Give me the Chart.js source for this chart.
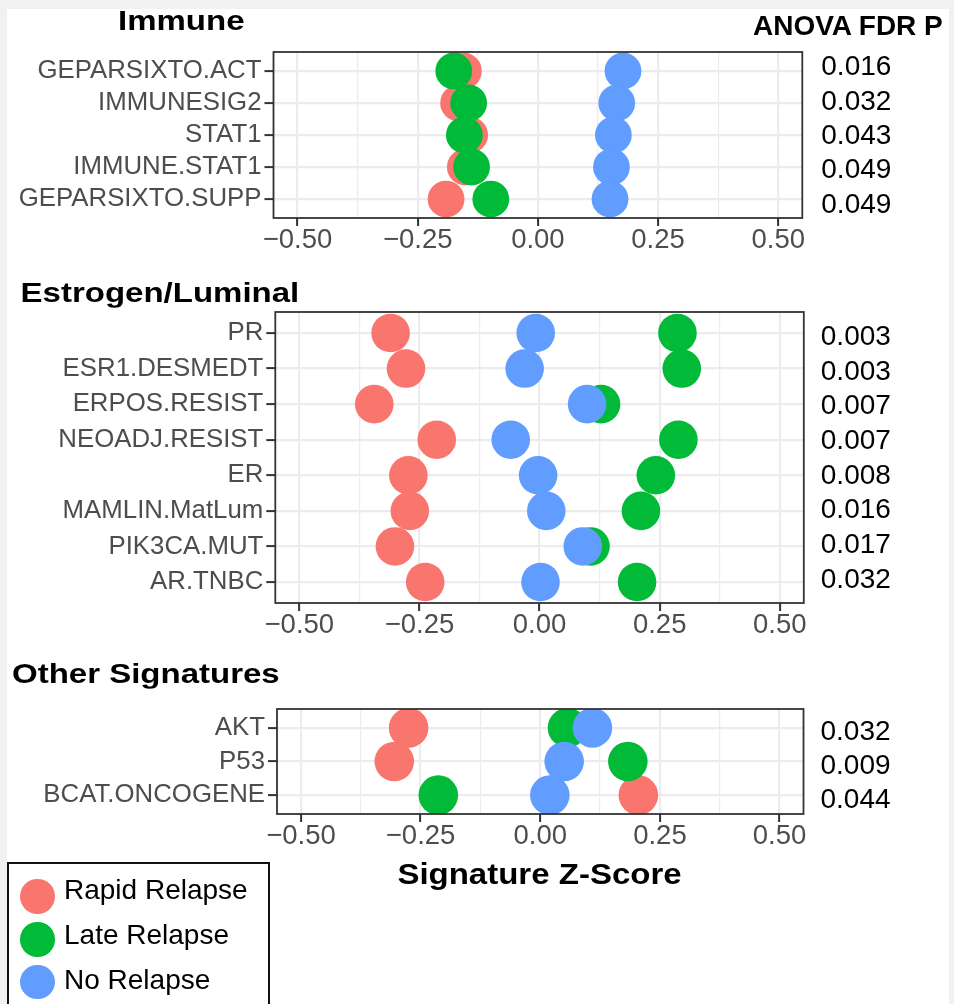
<!DOCTYPE html>
<html>
  <head>
    <meta charset="utf-8">
    <script src="https://cdn.jsdelivr.net/npm/chart.js@4.4.1/dist/chart.umd.min.js"></script>
    <style>
      body { margin: 0; width: 954px; height: 1004px; overflow: hidden; position: relative; background: #f1f1f1; font-family: "Liberation Sans", Arial, sans-serif; }
      #sheet { position: absolute; left: 7px; top: 9px; width: 942px; height: 1000px; background: #fff; }
      canvas { position: absolute; left: 0; }
      .t { position: absolute; white-space: nowrap; color: #000; }
      .ttl { font-size: 33px; line-height: 33px; font-weight: bold; transform-origin: 0 27.9px; }
      .leg { position: absolute; left: 7px; top: 862px; width: 259px; height: 160px; border: 2px solid #111; }
      .dot { position: absolute; width: 34.6px; height: 34.6px; border-radius: 50%; }
      .lt { position: absolute; font-size: 28px; line-height: 28px; white-space: nowrap; }
    </style>
  </head>
  <body>
    <div id="sheet"></div>
    <canvas id="immune" width="954" height="268" style="top:0px"></canvas>
    <canvas id="estro" width="954" height="383" style="top:270px"></canvas>
    <canvas id="other" width="954" height="214" style="top:650px"></canvas>

    <div class="t ttl" style="left:118px;top:2.4px;transform:scaleY(0.82)">Immune</div>
    <div class="t ttl" style="left:20.6px;top:274.4px;transform:scaleY(0.82)">Estrogen/Luminal</div>
    <div class="t ttl" style="left:12px;top:655.4px;transform:scaleY(0.82)">Other Signatures</div>
    <div class="t" style="left:753px;top:12.3px;font-size:28px;line-height:28px;font-weight:bold">ANOVA FDR P</div>
    <div class="t ttl" style="left:339.5px;width:400px;text-align:center;top:856.1px;transform-origin:200px 27.9px;transform:scaleY(0.88)">Signature Z-Score</div>

    <div class="leg" id="legend"></div>

    <script>
      // values
      var groups = ["Rapid Relapse", "Late Relapse", "No Relapse"];
      var groupColors = ["#F8766D", "#00BA38", "#619CFF"];
      var xTickValues = [-0.5, -0.25, 0, 0.25, 0.5];

      var immuneSigs = ["GEPARSIXTO.ACT", "IMMUNESIG2", "STAT1", "IMMUNE.STAT1", "GEPARSIXTO.SUPP"];
      var immuneRapid = [-0.155, -0.165, -0.142, -0.151, -0.191];
      var immuneLate = [-0.175, -0.144, -0.153, -0.138, -0.098];
      var immuneNone = [0.177, 0.164, 0.157, 0.153, 0.150];
      var immuneP = ["0.016", "0.032", "0.043", "0.049", "0.049"];

      var estroSigs = ["PR", "ESR1.DESMEDT", "ERPOS.RESIST", "NEOADJ.RESIST", "ER", "MAMLIN.MatLum", "PIK3CA.MUT", "AR.TNBC"];
      var estroRapid = [-0.31, -0.278, -0.344, -0.214, -0.273, -0.27, -0.301, -0.238];
      var estroLate = [0.287, 0.296, 0.128, 0.289, 0.242, 0.211, 0.106, 0.203];
      var estroNone = [-0.008, -0.031, 0.099, -0.06, -0.003, 0.014, 0.09, 0.002];
      var estroP = ["0.003", "0.003", "0.007", "0.007", "0.008", "0.016", "0.017", "0.032"];

      var otherSigs = ["AKT", "P53", "BCAT.ONCOGENE"];
      var otherRapid = [-0.275, -0.305, 0.205];
      var otherLate = [0.057, 0.183, -0.213];
      var otherNone = [0.109, 0.05, 0.02];
      var otherP = ["0.032", "0.009", "0.044"];

      var FONT = "'Liberation Sans', Arial, sans-serif";
      var GRID = "#ebebf0";

      // major ticks plus the minor ones halfway between
      var xAllTicks = [];
      xTickValues.forEach(function (v, i) {
        xAllTicks.push(v);
        if (i < xTickValues.length - 1) xAllTicks.push((v + xTickValues[i + 1]) / 2);
      });
      function isMajor(v) {
        return xTickValues.some(function (m) { return Math.abs(m - v) < 1e-9; });
      }

      // ggplot-like panel border on top of everything
      var panelBorder = {
        id: "panelBorder",
        afterDraw: function (chart) {
          var a = chart.chartArea, ctx = chart.ctx;
          ctx.save();
          ctx.strokeStyle = "#333";
          ctx.lineWidth = 1.8;
          ctx.strokeRect(a.left, a.top, a.right - a.left, a.bottom - a.top);
          ctx.restore();
        },
      };

      function makePanel(id, p) {
        var vals = [p.rapid, p.late, p.none];
        var datasets = vals.map(function (arr, g) {
          return {
            label: groups[g],
            data: arr.map(function (v, i) { return { x: v, y: i }; }),
            backgroundColor: groupColors[g],
            borderWidth: 0,
            pointRadius: p.radius,
            pointHoverRadius: p.radius,
            order: 3 - g,
          };
        });
        var rowTicks = function (axis) {
          axis.ticks = p.sigs.map(function (s, i) { return { value: i }; });
        };

        new Chart(document.getElementById(id), {
          type: "scatter",
          data: { datasets: datasets },
          plugins: [panelBorder],
          options: {
            responsive: false,
            animation: false,
            events: [],
            layout: { padding: { top: p.padTop, left: 0, right: 0, bottom: 0 } },
            plugins: { legend: { display: false }, tooltip: { enabled: false } },
            scales: {
              x: {
                type: "linear",
                min: -0.55,
                max: 0.55,
                bounds: "data",
                afterBuildTicks: function (axis) {
                  axis.ticks = xAllTicks.map(function (v) { return { value: v }; });
                },
                afterFit: function (axis) { axis.height = 50; },
                border: { display: false },
                grid: {
                  color: GRID,
                  lineWidth: function (c) { return c.tick && isMajor(c.tick.value) ? 2.2 : 1.2; },
                  tickColor: function (c) { return c.tick && isMajor(c.tick.value) ? "#333" : "rgba(0,0,0,0)"; },
                  tickLength: 8,
                  tickWidth: 2,
                },
                ticks: {
                  autoSkip: false,
                  maxRotation: 0,
                  padding: -2,
                  color: "#4d4d4d",
                  font: { family: FONT, size: 27.5 },
                  callback: function (v) {
                    if (!isMajor(v)) return "";
                    return (v < 0 ? "\u2212" : "") + Math.abs(v).toFixed(2);
                  },
                },
              },
              y: {
                type: "linear",
                position: "left",
                reverse: true,
                min: p.yMin,
                max: p.yMax,
                bounds: "data",
                afterBuildTicks: rowTicks,
                afterFit: function (axis) { axis.width = p.left; },
                border: { display: false },
                grid: { color: GRID, lineWidth: 2.2, tickColor: "#333", tickLength: 9, tickWidth: 2 },
                ticks: {
                  autoSkip: false,
                  padding: 3,
                  color: "#4d4d4d",
                  font: { family: FONT, size: 25.8 },
                  callback: function (v) { return p.sigs[v]; },
                },
              },
              pv: {
                type: "linear",
                position: "right",
                reverse: true,
                min: p.pMin,
                max: p.pMax,
                bounds: "data",
                afterBuildTicks: rowTicks,
                afterFit: function (axis) { axis.width = 954 - p.right; },
                border: { display: false },
                grid: { display: false, drawTicks: false },
                ticks: {
                  autoSkip: false,
                  padding: p.pPad,
                  color: "#000",
                  font: { family: FONT, size: 28 },
                  callback: function (v) { return p.pvals[v]; },
                },
              },
            },
          },
        });
      }

      makePanel("immune", {
        sigs: immuneSigs, rapid: immuneRapid, late: immuneLate, none: immuneNone, pvals: immuneP,
        radius: 18.4, padTop: 52, left: 273.5, right: 802.3,
        yMin: -0.59, yMax: 4.59, pMin: -0.455, pMax: 4.385, pPad: 19,
      });
      makePanel("estro", {
        sigs: estroSigs, rapid: estroRapid, late: estroLate, none: estroNone, pvals: estroP,
        radius: 19.3, padTop: 42, left: 275.3, right: 803.8,
        yMin: -0.59, yMax: 7.59, pMin: -0.73, pMax: 7.66, pPad: 17,
      });
      makePanel("other", {
        sigs: otherSigs, rapid: otherRapid, late: otherLate, none: otherNone, pvals: otherP,
        radius: 19.8, padTop: 59, left: 277, right: 803.5,
        yMin: -0.56, yMax: 2.56, pMin: -0.68, pMax: 2.39, pPad: 17,
      });

      // legend box
      var legend = document.getElementById("legend");
      var dotY = [32.5, 75.5, 118];
      var textTop = [12.3, 56.6, 101.6];
      groups.forEach(function (g, i) {
        var d = document.createElement("div");
        d.className = "dot";
        d.style.left = (37.7 - 17.3 - 9) + "px";
        d.style.top = (dotY[i] - 17.3) + "px";
        d.style.background = groupColors[i];
        legend.appendChild(d);
        var t = document.createElement("div");
        t.className = "lt";
        t.style.left = (64 - 9) + "px";
        t.style.top = textTop[i] + "px";
        t.textContent = g;
        legend.appendChild(t);
      });
    </script>
  </body>
</html>
